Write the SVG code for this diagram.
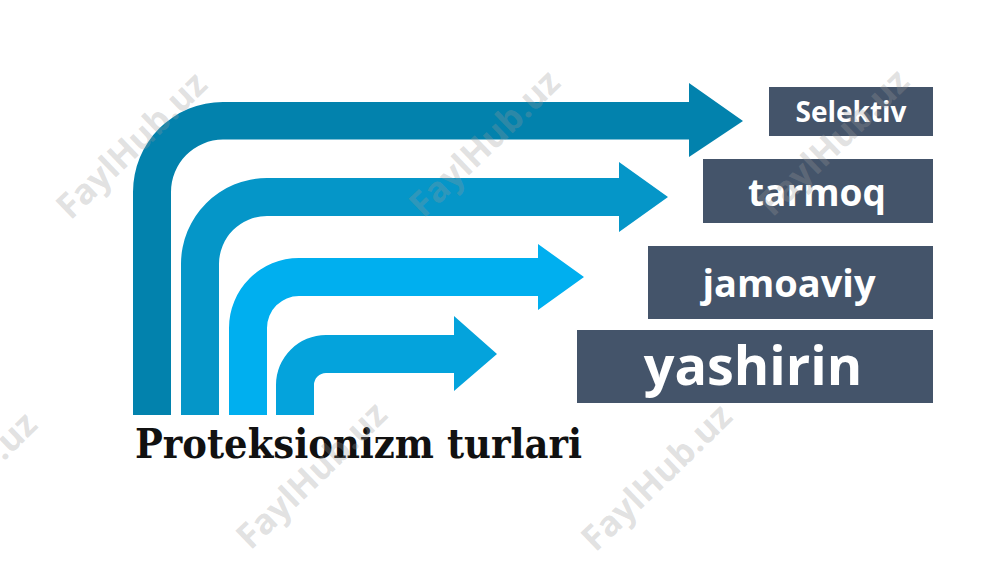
<svg xmlns="http://www.w3.org/2000/svg" width="1000" height="562" viewBox="0 0 1000 562">
<style>
.box{fill:#44546A}
.lbl{font-family:"Open Sans","Noto Sans",sans-serif;font-weight:700;fill:#FFFFFF;text-anchor:middle}
.title{font-family:"DejaVu Serif","Liberation Serif",serif;font-weight:700;fill:#111111}
.wm{font-family:"Open Sans","Noto Sans",sans-serif;font-weight:700;font-size:35px;fill:#9a9a9a;fill-opacity:0.3;text-anchor:middle}
</style>
<rect width="1000" height="562" fill="#FFFFFF"/>
<g id="connectors">
  <path id="arrow1" fill="#0282AD" d="M133,415 L133,192 A90,90 0 0 1 223,102 L689,102 L689,83 L743,121 L689,157 L689,139.5 L223,139.5 A52.5,52.5 0 0 0 171,192 L171,415 Z"/>
  <path id="arrow2" fill="#0596C8" d="M181,415 L181,264 A86,86 0 0 1 267,178 L619,178 L619,162 L668,197 L619,232 L619,216 L267,216 A48,48 0 0 0 219,264 L219,415 Z"/>
  <path id="arrow3" fill="#00AFEF" d="M229,415 L229,328 A70,70 0 0 1 299,258 L538,258 L538,244 L584,277 L538,310 L538,296 L299,296 A32,32 0 0 0 267,328 L267,415 Z"/>
  <path id="arrow4" fill="#04A3DC" d="M276,415 L276,385 A50,50 0 0 1 326,335 L454,335 L454,316 L497,354 L454,391 L454,373 L326,373 A12,12 0 0 0 314,385 L314,415 Z"/>
</g>
<g id="node-selektiv">
  <rect class="box" x="769" y="87" width="164" height="49"/>
  <text class="lbl" x="851" y="122" font-size="28">Selektiv</text>
</g>
<g id="node-tarmoq">
  <rect class="box" x="703" y="159" width="230" height="64"/>
  <text class="lbl" x="817" y="206" font-size="37">tarmoq</text>
</g>
<g id="node-jamoaviy">
  <rect class="box" x="648" y="246" width="285" height="73"/>
  <text class="lbl" x="789" y="297" font-size="38">jamoaviy</text>
</g>
<g id="node-yashirin">
  <rect class="box" x="577" y="330" width="356" height="73"/>
  <text class="lbl" x="753" y="385" font-size="54">yashirin</text>
</g>
<g id="title">
  <text class="title" x="135" y="458" font-size="41" textLength="447" lengthAdjust="spacingAndGlyphs">Proteksionizm turlari</text>
</g>
<g id="watermarks">
  <text class="wm" transform="translate(140,154) rotate(-44)">FaylHub.uz</text>
  <text class="wm" transform="translate(493,152) rotate(-44)">FaylHub.uz</text>
  <text class="wm" transform="translate(842,151) rotate(-44)">FaylHub.uz</text>
  <text class="wm" transform="translate(-30,494) rotate(-44)">FaylHub.uz</text>
  <text class="wm" transform="translate(320,484) rotate(-44)">FaylHub.uz</text>
  <text class="wm" transform="translate(665,486) rotate(-44)">FaylHub.uz</text>
</g>
</svg>
